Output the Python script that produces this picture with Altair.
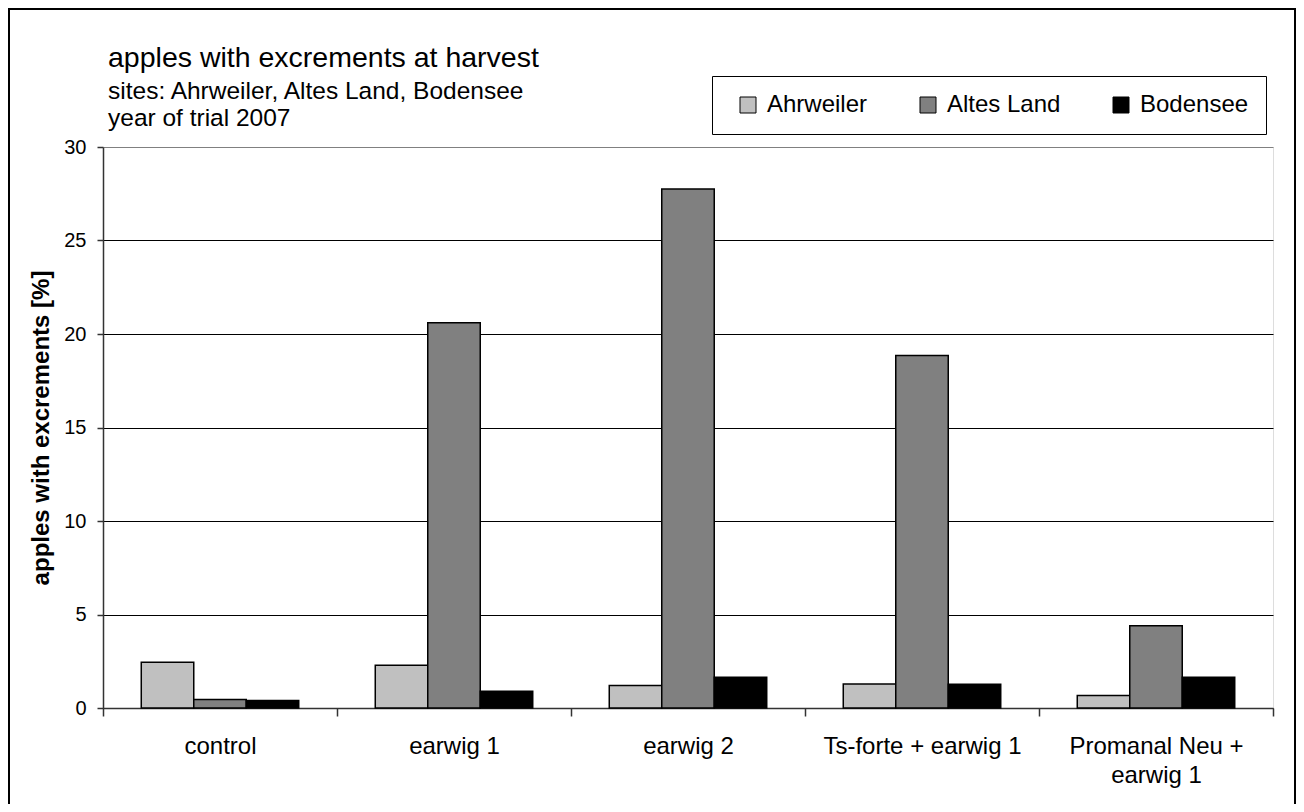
import altair as alt
import pandas as pd

# ---- data ----
treatments = ["control", "earwig 1", "earwig 2", "Ts-forte + earwig 1", "Promanal Neu + earwig 1"]
sites = ["Ahrweiler", "Altes Land", "Bodensee"]
ahrweiler = [2.45, 2.28, 1.20, 1.28, 0.67]
altes_land = [0.45, 20.6, 27.75, 18.85, 4.4]
bodensee = [0.40, 0.90, 1.65, 1.27, 1.65]
site_colors = ["#C0C0C0", "#808080", "#000000"]
y_ticks = [0, 5, 10, 15, 20, 25, 30]

title_text = "apples with excrements at harvest"
subtitle_lines = ["sites: Ahrweiler, Altes Land, Bodensee", "year of trial 2007"]
y_title = "apples with excrements [%]"

rows = []
for i, t in enumerate(treatments):
    for s, vals in zip(sites, [ahrweiler, altes_land, bodensee]):
        rows.append({"treatment": t, "site": s, "value": vals[i]})
df = pd.DataFrame(rows)

FONT = "Liberation Sans"
W, H = 1170, 561

bars = alt.Chart(df).mark_bar(stroke="black", strokeWidth=1.5).encode(
    x=alt.X(
        "treatment:N",
        sort=treatments,
        scale=alt.Scale(paddingInner=0, paddingOuter=0),
        axis=alt.Axis(
            title=None,
            labelAngle=0,
            tickBand="extent",
            tickSize=8,
            tickColor="#333333",
            tickWidth=1.5,
            domainColor="#333333",
            domainWidth=1.5,
            labelFont=FONT,
            labelFontSize=24,
            labelColor="black",
            labelPadding=18,
            labelLineHeight=29,
            labelLimit=400,
            grid=False,
            labelExpr="datum.label == 'Promanal Neu + earwig 1' ? ['Promanal Neu +', 'earwig 1'] : datum.label",
        ),
    ),
    xOffset=alt.XOffset(
        "site:N", sort=sites, scale=alt.Scale(paddingInner=0, paddingOuter=0.729)
    ),
    y=alt.Y(
        "value:Q",
        scale=alt.Scale(domain=[0, 30], nice=False),
        axis=alt.Axis(
            values=y_ticks,
            title=y_title,
            titleFont=FONT,
            titleFontSize=24,
            titleFontWeight="bold",
            titleColor="black",
            titlePadding=10,
            labelFont=FONT,
            labelFontSize=20,
            labelColor="black",
            labelPadding=11,
            tickSize=6,
            tickColor="#333333",
            tickWidth=1.5,
            domainColor="#333333",
            domainWidth=1.5,
            grid=True,
            gridColor={"condition": {"test": "datum.value === 30", "value": "#808080"}, "value": "#000000"},
            gridWidth=1,
        ),
    ),
    color=alt.Color(
        "site:N",
        sort=sites,
        scale=alt.Scale(domain=sites, range=site_colors),
        legend=alt.Legend(
            title=None,
            orient="none",
            legendX=609,
            legendY=-71,
            direction="horizontal",
            columns=3,
            symbolType="square",
            symbolSize=256,
            symbolStrokeColor="black",
            symbolStrokeWidth=1,
            symbolOffset=7,
            labelOffset=7,
            columnPadding=41,
            labelFont=FONT,
            labelFontSize=24,
            labelColor="black",
            labelBaseline="middle",
            padding=17,
            strokeColor="black",
            fillColor="white",
        ),
    ),
)

frame = alt.Chart(alt.Data(values=[{}])).mark_rect(
    fillOpacity=0, stroke="black", strokeWidth=2
).encode(
    x=alt.value(-94), x2=alt.value(W + 22), y=alt.value(-138), y2=alt.value(H + 120)
)

chart = alt.layer(frame, bars).properties(
    width=W,
    height=H,
    padding={"left": 95, "top": 139, "right": 23, "bottom": 96},
    autosize=alt.AutoSizeParams(type="none"),
    title=alt.Title(
        text=title_text,
        subtitle=subtitle_lines,
        anchor="start",
        frame="group",
        dx=5,
        dy=65,
        offset=-57,
        font=FONT,
        fontSize=28.5,
        fontWeight="normal",
        color="black",
        subtitleFont=FONT,
        subtitleFontSize=24.5,
        subtitleColor="black",
        subtitlePadding=7,
        subtitleLineHeight=27,
    ),
).configure_view(stroke="#808080", strokeWidth=2).configure(background="white")

chart.save("out.html", embed_options={"renderer": "svg", "actions": False})
